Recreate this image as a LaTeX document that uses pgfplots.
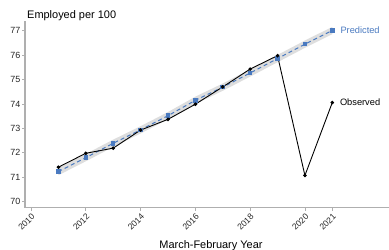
\documentclass[border=0pt]{standalone}
\usepackage{fontspec}
\setmainfont{Liberation Sans}
\usepackage{pgfplots}
\pgfplotsset{compat=1.18}
\usepgfplotslibrary{fillbetween}
\definecolor{pblue}{RGB}{74,122,192}
\definecolor{axgray}{RGB}{175,175,175}
\definecolor{band}{RGB}{222,222,222}
\begin{document}
\begin{tikzpicture}
\begin{axis}[
  scale only axis, width=364bp, height=186.7bp,
  xmin=2009.78, xmax=2023.07, ymin=69.75, ymax=77.4,
  axis lines=left,
  axis line style={axgray, line width=1.1pt, -},
  xtick={2010,2012,2014,2016,2018,2020,2021},
  xticklabels={2010,2012,2014,2016,2018,2020,2021},
  ytick={70,71,72,73,74,75,76,77},
  tick style={axgray, line width=0.7pt},
  major tick length=3bp,
  tick align=outside,
  xticklabel style={rotate=45, anchor=north east, font=\fontsize{8.6}{9}\selectfont, text=black!85, inner sep=1.5pt},
  yticklabel style={font=\fontsize{9}{9}\selectfont, text=black!85, inner sep=1.5pt},
  /pgf/number format/assume math mode=true,
  /pgf/number format/1000 sep={},
  clip=false,
]
\addplot[name path=up, draw=none, forget plot] coordinates {
(2011,71.38)(2012,71.95)(2013,72.54)(2014,73.09)(2015,73.67)(2016,74.30)(2017,74.84)(2018,75.42)(2019,76.01)(2020,76.60)(2021,77.16)};
\addplot[name path=lo, draw=none, forget plot] coordinates {
(2011,71.08)(2012,71.65)(2013,72.24)(2014,72.79)(2015,73.37)(2016,74.00)(2017,74.54)(2018,75.12)(2019,75.71)(2020,76.30)(2021,76.86)};
\addplot[band, forget plot] fill between[of=up and lo];
\addplot[pblue, dashed, dash pattern=on 4bp off 3bp, line width=1pt, mark=square*, mark size=1.8bp, mark options={solid}] coordinates {
(2011,71.23)(2012,71.80)(2013,72.39)(2014,72.94)(2015,73.52)(2016,74.15)(2017,74.69)(2018,75.27)(2019,75.86)(2020,76.45)(2021,77.01)};
\addplot[black, line width=0.9pt, mark=*, mark size=1.3bp] coordinates {
(2011,71.41)(2012,71.98)(2013,72.19)(2014,72.93)(2015,73.37)(2016,73.99)(2017,74.70)(2018,75.43)(2019,75.98)(2020,71.07)(2021,74.06)};
\node[anchor=west, text=pblue, font=\fontsize{9.3}{10}\selectfont, inner sep=0pt, xshift=8bp] at (axis cs:2021,77.01) {Predicted};
\node[anchor=west, text=black, font=\fontsize{9.3}{10}\selectfont, inner sep=0pt, xshift=7.5bp] at (axis cs:2021,74.06) {Observed};
\coordinate (ll) at (rel axis cs:0,0);
\coordinate (ur) at (rel axis cs:1,1);
\end{axis}
\node[anchor=base west, font=\fontsize{11}{12}\selectfont, inner sep=0pt] at ([xshift=2bp, yshift=189.4bp]ll) {Employed per 100};
\node[anchor=base, font=\fontsize{11}{12}\selectfont, inner sep=0pt] at ([xshift=186bp, yshift=-40.5bp]ll) {March-February Year};
\pgfresetboundingbox
\path ([xshift=-25bp, yshift=-42.3bp]ll) rectangle ([yshift=21bp]ur);
\end{tikzpicture}
\end{document}
